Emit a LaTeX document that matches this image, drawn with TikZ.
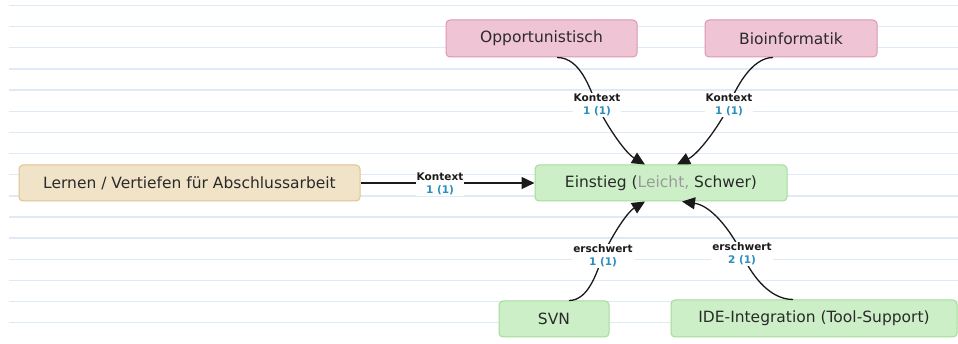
\documentclass[tikz,border=0pt]{standalone}
\usepackage{fontspec}
\setmainfont{DejaVu Sans}
\usetikzlibrary{arrows.meta}
\definecolor{stripe}{HTML}{DEEAF5}
\definecolor{pinkfill}{HTML}{EFC4D4}
\definecolor{pinkdraw}{HTML}{DD98AF}
\definecolor{tanfill}{HTML}{F1E3C8}
\definecolor{tandraw}{HTML}{E0C38F}
\definecolor{greenfill}{HTML}{CDEFC8}
\definecolor{greendraw}{HTML}{A3DC98}
\definecolor{txt}{HTML}{2A2A2A}
\definecolor{lblblue}{HTML}{2B8EC0}
\definecolor{edgecol}{HTML}{1A1A1A}
\definecolor{soft}{HTML}{9A9A9A}
\tikzset{
  box/.style={rounded corners=4pt, line width=1pt, inner sep=0pt, minimum height=37pt,
    text=txt, font=\fontsize{15.5}{18}\selectfont, anchor=center},
  pinkbox/.style={box, fill=pinkfill, draw=pinkdraw},
  tanbox/.style={box, fill=tanfill, draw=tandraw},
  greenbox/.style={box, fill=greenfill, draw=greendraw},
  conn/.style={draw=edgecol, line width=1.3pt, -{Triangle[length=13pt,width=12pt]}},
  lbl/.style={fill=white, inner sep=1pt, align=center, text=edgecol,
    font=\fontsize{10.5}{13.4}\selectfont\bfseries},
}
\begin{document}
\begin{tikzpicture}[x=1pt,y=-1pt]
\useasboundingbox (0,0) rectangle (958,344);
\fill[white] (0,0) rectangle (958,344);
\foreach \k in {0,...,15}{
  \draw[stripe, line width=1.4pt] (9,5.5+21.15*\k) -- (958,5.5+21.15*\k);
}
% nodes
\node[pinkbox, minimum width=191pt] (opp) at (541.5,38.5) {Opportunistisch};
\node[pinkbox, minimum width=172pt] (bio) at (791,38.5) {Bioinformatik};
\node[tanbox, minimum width=341pt, minimum height=36pt] (lern) at (189.5,183) {Lernen / Vertiefen für Abschlussarbeit};
\node[greenbox, minimum width=252pt, minimum height=36pt] (ein) at (661,183) {Einstieg ({\color{soft}Leicht,} Schwer)};
\node[greenbox, minimum width=110pt, minimum height=36pt] (svn) at (554,319) {SVN};
\node[greenbox, minimum width=286pt] (ide) at (814,318.5) {IDE-Integration (Tool-Support)};
% label anchors
\coordinate (l1) at (597,105);
\coordinate (l2) at (729,105);
\coordinate (l3) at (440,184);
\coordinate (l4) at (603,256);
\coordinate (l5) at (742,254);
% connectors
\draw[conn] ([xshift=15.5pt]opp.south) .. controls +(24,0) and (590,90) .. (l1)
  .. controls (604,121) and (624,152) .. ([xshift=-16pt]ein.north);
\draw[conn] ([xshift=-18pt]bio.south) .. controls +(-22,0) and (735,90) .. (l2)
  .. controls (723,120) and (700,153) .. ([xshift=16pt]ein.north);
\draw[conn] (lern.east) -- (ein.west);
\draw[conn] ([xshift=15pt]svn.north) .. controls +(20,0) and (597,271) .. (l4)
  .. controls (609,241) and (626,213) .. ([xshift=-16pt]ein.south);
\draw[conn] ([xshift=-21pt]ide.north) .. controls +(-26,0) and (749,270) .. (l5)
  .. controls (735,238) and (714,206) .. ([xshift=21pt]ein.south);
% labels
\node[lbl] (t1) at (l1) {Kontext\\\color{lblblue}1 (1)};
\node[lbl] (t2) at (l2) {Kontext\\\color{lblblue}1 (1)};
\node[lbl] (t3) at (l3) {Kontext\\\color{lblblue}1 (1)};
\node[lbl] (t4) at (l4) {erschwert\\\color{lblblue}1 (1)};
\node[lbl] (t5) at (l5) {erschwert\\\color{lblblue}2 (1)};
\end{tikzpicture}
\end{document}
